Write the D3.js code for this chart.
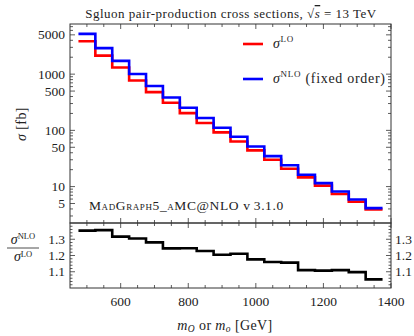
<!DOCTYPE html>
<html>
<head>
<meta charset="utf-8">
<script src="https://cdn.jsdelivr.net/npm/d3@7"></script>
<style>
  body { margin: 0; background: #fff; }
  svg { font-family: "Liberation Serif", serif; }
</style>
</head>
<body>
<div id="chart"></div>
<script>
// bin centres (GeV), 50 GeV wide
const masses = [500, 550, 600, 650, 700, 750, 800, 850, 900, 950, 1000, 1050, 1100, 1150, 1200, 1250, 1300, 1350]
const sigmaLO = [3850, 2140, 1310, 770, 479, 309, 203, 135, 92, 63.5, 44, 30, 20.8, 14.6, 10.4, 7.37, 5.37, 3.92]
const sigmaNLO = [5210, 2900, 1725, 1005, 614, 384, 253, 166, 111, 76.9, 51.7, 34.8, 24.0, 16.2, 11.5, 8.18, 5.90, 4.13]
const kFactor = [1.353, 1.356, 1.316, 1.305, 1.281, 1.244, 1.245, 1.228, 1.205, 1.211, 1.176, 1.16, 1.156, 1.11, 1.107, 1.11, 1.098, 1.053]
const binWidth = 50

const xTicks = [600, 800, 1000, 1200, 1400]
const sigmaTicks = [5, 10, 50, 100, 500, 1000, 5000]
const ratioTicks = [1.1, 1.2, 1.3]

const width = 414, height = 336
const left = 70, right = 391
const mainTop = 24, mainBottom = 223, ratioBottom = 288
const frameColor = "#333"
const textColor = "#222"

const svg = d3.select("#chart").append("svg")
  .attr("width", width).attr("height", height)

const x = d3.scaleLinear().domain([450, 1400]).range([left, right])
const y = d3.scaleLog().domain([2.25, 7800]).range([mainBottom, mainTop])
const yr = d3.scaleLinear().domain([1.0, 1.4]).range([ratioBottom, mainBottom])

// steps from bin edges
function steps(values) {
  const pts = masses.map((m, i) => [m - binWidth / 2, values[i]])
  pts.push([masses[masses.length - 1] + binWidth / 2, values[values.length - 1]])
  return pts
}

const mainLine = d3.line().x(d => x(d[0])).y(d => y(d[1])).curve(d3.curveStepAfter)
const ratioLine = d3.line().x(d => x(d[0])).y(d => yr(d[1])).curve(d3.curveStepAfter)

// minor x ticks every 50 GeV
const xMinor = d3.range(500, 1400, 50).filter(v => !xTicks.includes(v))
// log minor ticks
const logMinor = []
for (let e = 0; e <= 3; e++) {
  for (let k = 1; k <= 9; k++) {
    const v = k * Math.pow(10, e)
    if (v >= 2.25 && v <= 7800 && !sigmaTicks.includes(v)) logMinor.push(v)
  }
}
const ratioMinor = d3.range(1.02, 1.4, 0.02).filter(v => !ratioTicks.some(t => Math.abs(t - v) < 1e-6))

const ticks = svg.append("g").attr("stroke", frameColor).attr("stroke-width", 0.8)

function vTicks(vals, y0, dir, len) {
  ticks.selectAll(null).data(vals).join("line")
    .attr("x1", d => x(d)).attr("x2", d => x(d))
    .attr("y1", y0).attr("y2", y0 + dir * len)
}
function hTicks(scale, vals, x0, dir, len) {
  ticks.selectAll(null).data(vals).join("line")
    .attr("y1", d => scale(d)).attr("y2", d => scale(d))
    .attr("x1", x0).attr("x2", x0 + dir * len)
}

// main panel ticks
vTicks(xTicks, mainBottom, -1, 5); vTicks(xMinor, mainBottom, -1, 3)
vTicks(xTicks, mainTop, 1, 5); vTicks(xMinor, mainTop, 1, 3)
hTicks(y, sigmaTicks, left, 1, 5); hTicks(y, logMinor, left, 1, 3)
hTicks(y, sigmaTicks, right, -1, 5); hTicks(y, logMinor, right, -1, 3)
// ratio panel ticks
vTicks(xTicks, mainBottom, 1, 5); vTicks(xMinor, mainBottom, 1, 3)
vTicks(xTicks, ratioBottom, -1, 5); vTicks(xMinor, ratioBottom, -1, 3)
hTicks(yr, ratioTicks, left, 1, 5); hTicks(yr, ratioMinor, left, 1, 2.5)
hTicks(yr, ratioTicks, right, -1, 5); hTicks(yr, ratioMinor, right, -1, 2.5)

// frames
svg.append("rect").attr("x", left).attr("y", mainTop)
  .attr("width", right - left).attr("height", mainBottom - mainTop)
  .attr("fill", "none").attr("stroke", frameColor).attr("stroke-width", 1)
svg.append("rect").attr("x", left).attr("y", mainBottom)
  .attr("width", right - left).attr("height", ratioBottom - mainBottom)
  .attr("fill", "none").attr("stroke", frameColor).attr("stroke-width", 1)

// histograms
svg.append("path").attr("d", mainLine(steps(sigmaLO)))
  .attr("fill", "none").attr("stroke", "#ff0000").attr("stroke-width", 2.6)
svg.append("path").attr("d", mainLine(steps(sigmaNLO)))
  .attr("fill", "none").attr("stroke", "#0000ff").attr("stroke-width", 2.6)
svg.append("path").attr("d", ratioLine(steps(kFactor)))
  .attr("fill", "none").attr("stroke", "#000").attr("stroke-width", 2.6)

// tick labels
const txt = svg.append("g").attr("fill", textColor).attr("font-size", 13.5)
txt.selectAll(null).data(sigmaTicks).join("text")
  .attr("x", left - 5).attr("y", d => y(d)).attr("dy", "0.33em")
  .attr("text-anchor", "end").text(d => d)
txt.selectAll(null).data(ratioTicks).join("text")
  .attr("x", left - 5).attr("y", d => yr(d)).attr("dy", "0.33em")
  .attr("text-anchor", "end").text(d => d3.format(".1f")(d))
txt.selectAll(null).data(ratioTicks).join("text")
  .attr("x", right + 4).attr("y", d => yr(d)).attr("dy", "0.33em")
  .text(d => d3.format(".1f")(d))
txt.selectAll(null).data(xTicks).join("text")
  .attr("x", d => x(d)).attr("y", 306)
  .attr("text-anchor", "middle").text(d => d)

// title
const title = svg.append("text").attr("x", 231).attr("y", 18)
  .attr("text-anchor", "middle").attr("font-size", 13).attr("letter-spacing", 0.5)
  .attr("fill", textColor)
title.append("tspan").text("Sgluon pair-production cross sections, \u221A")
title.append("tspan").attr("text-decoration", "overline").attr("font-style", "italic").text("s")
title.append("tspan").text(" = 13 TeV")

// y label
const yl = svg.append("text").attr("transform", "translate(26,124) rotate(-90)")
  .attr("text-anchor", "middle").attr("font-size", 14).attr("letter-spacing", 0.4)
  .attr("fill", textColor)
yl.append("tspan").attr("font-style", "italic").text("\u03C3")
yl.append("tspan").text(" [fb]")

// ratio label (fraction)
const num = svg.append("text").attr("x", 23).attr("y", 244).attr("text-anchor", "middle")
  .attr("font-size", 14).attr("fill", textColor)
num.append("tspan").attr("font-style", "italic").text("\u03C3")
num.append("tspan").attr("font-size", 8.5).attr("dy", -5).text("NLO")
svg.append("line").attr("x1", 7).attr("x2", 39).attr("y1", 248).attr("y2", 248)
  .attr("stroke", textColor).attr("stroke-width", 0.8)
const den = svg.append("text").attr("x", 23).attr("y", 261).attr("text-anchor", "middle")
  .attr("font-size", 14).attr("fill", textColor)
den.append("tspan").attr("font-style", "italic").text("\u03C3")
den.append("tspan").attr("font-size", 8.5).attr("dy", -4).text("LO")

// x label
const xl = svg.append("text").attr("x", 225).attr("y", 330)
  .attr("text-anchor", "middle").attr("font-size", 14).attr("letter-spacing", 0.4)
  .attr("fill", textColor)
xl.append("tspan").attr("font-style", "italic").text("m")
xl.append("tspan").attr("font-style", "italic").attr("font-size", 9.5).attr("dy", 2).text("O")
xl.append("tspan").attr("dy", -2).text(" or ")
xl.append("tspan").attr("font-style", "italic").text("m")
xl.append("tspan").attr("font-style", "italic").attr("font-size", 9.5).attr("dy", 2).text("o")
xl.append("tspan").attr("dy", -2).text(" [GeV]")

// legend
const legend = [
  { color: "#ff0000", sup: "LO", extra: "", yy: 44 },
  { color: "#0000ff", sup: "NLO", extra: " (fixed order)", yy: 79 }
]
legend.forEach(l => {
  svg.append("line").attr("x1", 243).attr("x2", 263).attr("y1", l.yy).attr("y2", l.yy)
    .attr("stroke", l.color).attr("stroke-width", 2.6)
  const t = svg.append("text").attr("x", 273).attr("y", l.yy + 4)
    .attr("font-size", 14).attr("letter-spacing", 0.7).attr("fill", textColor)
  t.append("tspan").attr("font-style", "italic").text("\u03C3")
  t.append("tspan").attr("font-size", 9).attr("dy", -6).text(l.sup)
  t.append("tspan").attr("dy", 6).text(l.extra)
})

// generator tag
const tag = svg.append("text").attr("x", 89).attr("y", 210)
  .attr("font-size", 13.5).attr("letter-spacing", 0.6).attr("fill", textColor)
tag.append("tspan").attr("font-variant", "small-caps").text("MadGraph5_aMC@NLO")
tag.append("tspan").text(" v\u20093.1.0")
</script>
</body>
</html>
